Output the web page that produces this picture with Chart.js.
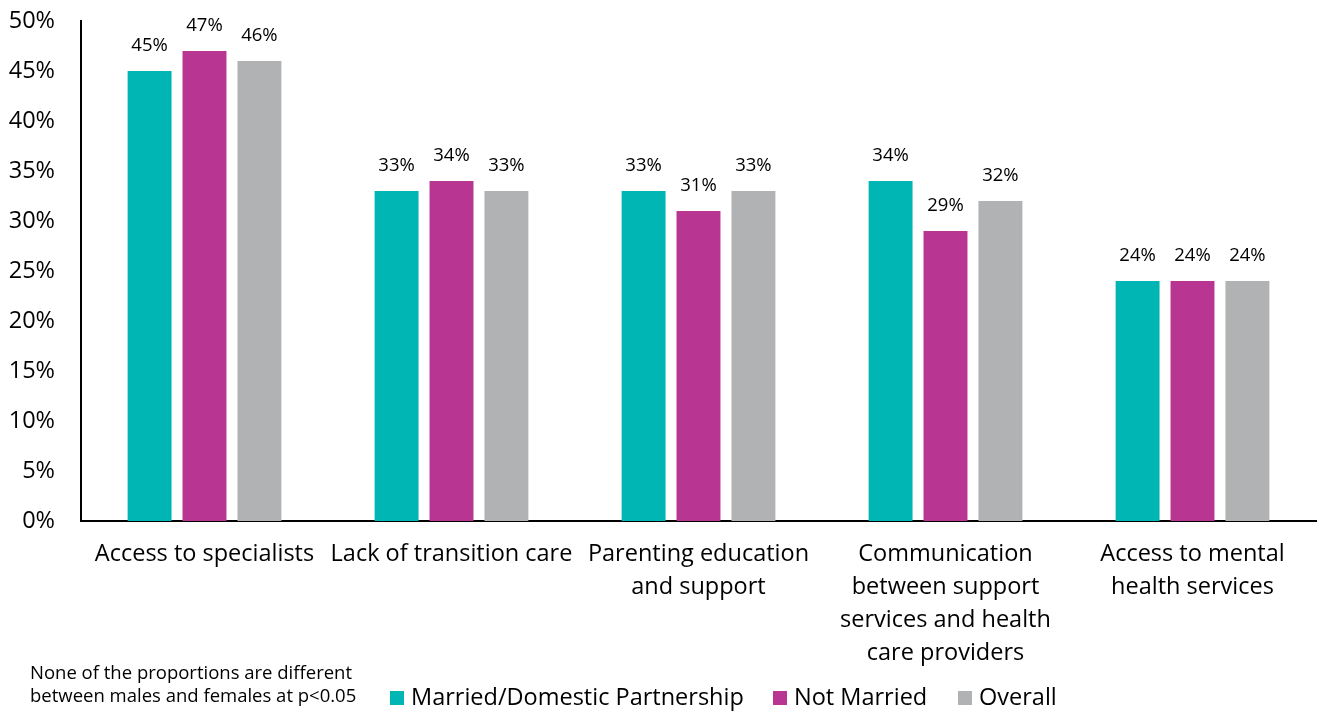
<!DOCTYPE html>
<html>
<head>
<meta charset="utf-8">
<script src="https://cdn.jsdelivr.net/npm/chart.js@4"></script>
<style>
  body { margin: 0; background: #fff; }
  #wrap { width: 1317px; height: 711px; position: relative; }
</style>
</head>
<body>
<div id="wrap"><canvas id="myChart"></canvas></div>
<script>
var categories = [
  "Access to specialists",
  "Lack of transition care",
  ["Parenting education", "and support"],
  ["Communication", "between support", "services and health", "care providers"],
  ["Access to mental", "health services"]
];
var seriesNames = ["Married/Domestic Partnership", "Not Married", "Overall"];
var married = [45, 33, 33, 34, 24];
var notMarried = [47, 34, 31, 29, 24];
var overall = [46, 33, 33, 32, 24];
var colors = ["#00B6B4", "#B83592", "#B1B2B4"];
var noteLines = ["None of the proportions are different", "between males and females at p<0.05"];

var FONT = "'Open Sans', 'Noto Sans', sans-serif";

// value labels above each bar
var barLabels = {
  id: "barLabels",
  afterDatasetsDraw(chart) {
    var ctx = chart.ctx;
    ctx.save();
    ctx.font = "18.5px " + FONT;
    ctx.fillStyle = "#000";
    ctx.textAlign = "center";
    ctx.textBaseline = "middle";
    chart.data.datasets.forEach(function (ds, i) {
      chart.getDatasetMeta(i).data.forEach(function (bar, j) {
        ctx.fillText(ds.data[j] + "%", bar.x, bar.y - 25);
      });
    });
    ctx.restore();
  }
};

// legend row and footnote along the bottom
var bottomText = {
  id: "bottomText",
  afterDraw(chart) {
    var ctx = chart.ctx;
    ctx.save();
    ctx.fillStyle = "#000";
    ctx.textBaseline = "middle";
    ctx.textAlign = "left";
    ctx.font = "18.5px " + FONT;
    ctx.fillText(noteLines[0], 30, 674);
    ctx.fillText(noteLines[1], 30, 697);

    ctx.font = "23.5px " + FONT;
    var boxX = [390, 773, 958];
    chart.data.datasets.forEach(function (ds, i) {
      ctx.fillStyle = ds.backgroundColor;
      ctx.fillRect(boxX[i], 691, 14, 14);
      ctx.fillStyle = "#000";
      ctx.fillText(ds.label, boxX[i] + 21, 698);
    });
    ctx.restore();
  }
};

function addChart(id, chartOption) {
  var ctx = document.getElementById(id).getContext("2d");
  return new Chart(ctx, chartOption);
}

var seriesData = [married, notMarried, overall];

addChart("myChart", {
  type: "bar",
  data: {
    labels: categories,
    datasets: seriesData.map(function (d, i) {
      return {
        label: seriesNames[i],
        data: d,
        backgroundColor: colors[i],
        categoryPercentage: 0.667,
        barPercentage: 0.8
      };
    })
  },
  options: {
    responsive: true,
    maintainAspectRatio: false,
    animation: false,
    layout: { padding: { top: 21, right: 1, left: 0, bottom: 0 } },
    plugins: {
      legend: { display: false },
      tooltip: { enabled: false }
    },
    scales: {
      x: {
        grid: { display: false },
        border: { color: "#000", width: 2 },
        ticks: {
          color: "#000",
          maxRotation: 0,
          autoSkip: false,
          padding: 9,
          font: { family: FONT, size: 23.5, lineHeight: 1.4 }
        },
        afterFit: function (s) { s.height = 190; }
      },
      y: {
        min: 0,
        max: 50,
        grid: { display: false },
        border: { color: "#000", width: 2 },
        ticks: {
          stepSize: 5,
          color: "#000",
          padding: 18,
          font: { family: FONT, size: 23.5 },
          callback: function (v) { return v + "%"; }
        },
        afterFit: function (s) {
          s.width = 81;
          s.paddingTop = 0;
          s.paddingBottom = 0;
        }
      }
    }
  },
  plugins: [barLabels, bottomText]
});
</script>
</body>
</html>
